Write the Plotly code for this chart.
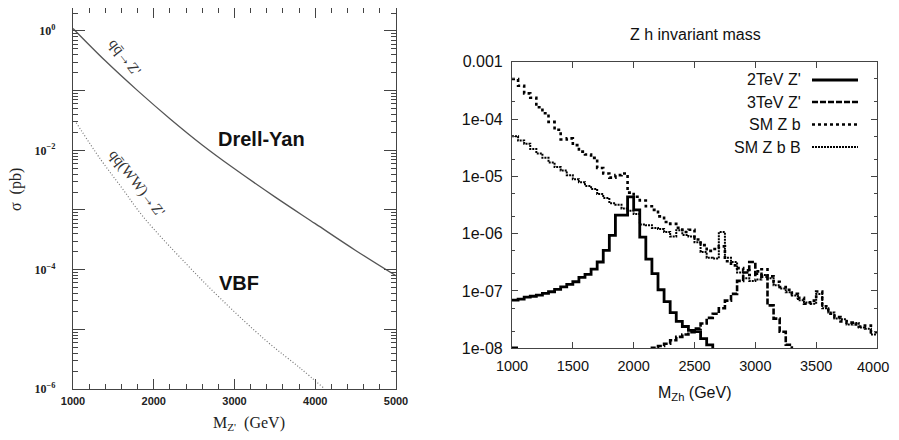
import plotly.graph_objects as go

# the page body adds an 8px margin on every side; keep the figure inside it
# (no scrollbars) and shift reference pixel positions by that offset
W, H = 883, 424
OFF = 8

# ---- left panel: cross sections vs Z' mass ----
dy_mass = [1000, 1400, 1800, 2200, 2600, 3000, 3500, 4000, 4500, 5000]
dy_sigma = [1.1, 0.316, 0.1, 0.0339, 0.0123, 4.9e-3, 1.66e-3, 5.9e-4, 2.1e-4, 7.9e-5]

vbf_mass = [1040, 1340, 1600, 1873, 2400, 2825, 3400, 3813, 4100]
vbf_sigma = [0.029, 7.1e-3, 2.4e-3, 7.6e-4, 1.26e-4, 3.3e-5, 6.3e-6, 2.24e-6, 1.05e-6]

# ---- right panel: Zh invariant mass histograms (50 GeV bins, 1000-4000) ----
bin_lo = list(range(1000, 4000, 50))
BELOW = 1e-10  # bins that fall under the 1e-8 floor

zp2 = [6.9e-8, 7.2e-8, 7.8e-8, 8.1e-8, 8.5e-8, 9.1e-8, 9.7e-8, 1.07e-7, 1.18e-7, 1.30e-7,
       1.45e-7, 1.73e-7, 1.95e-7, 2.4e-7, 3.2e-7, 5.1e-7, 9.3e-7, 2.1e-6, 2.1e-6, 4.4e-6,
       2.6e-6, 8.7e-7, 3.6e-7, 2.0e-7, 1.05e-7, 6.5e-8, 4.2e-8, 2.95e-8, 2.4e-8, 2.05e-8,
       1.95e-8, 1.48e-8, 1.15e-8] + [BELOW] * 27

zp3 = [1.02e-8] + [BELOW] * 22 + [
       1.02e-8, 1.1e-8, 1.2e-8, 1.38e-8, 1.58e-8, 1.74e-8, 1.9e-8, 2.2e-8, 2.7e-8, 3.4e-8,
       4.0e-8, 5.0e-8, 6.8e-8, 8.9e-8, 1.5e-7, 2.1e-7, 3.2e-7, 2.0e-7, 1.78e-7, 5.6e-8,
       3.3e-8, 1.95e-8, 1.15e-8] + [BELOW] * 14

sm_zb = [5.0e-4, 3.8e-4, 2.8e-4, 2.35e-4, 1.6e-4, 1.26e-4, 8.9e-5, 6.5e-5, 4.4e-5, 4.6e-5,
         3.5e-5, 2.7e-5, 2.4e-5, 2.1e-5, 1.4e-5, 1.12e-5, 9.5e-6, 1.05e-5, 1.12e-5, 5.2e-6,
         4.4e-6, 3.8e-6, 3.0e-6, 2.6e-6, 2.0e-6, 1.6e-6, 1.48e-6, 1.26e-6, 1.07e-6, 1.17e-6,
         7.9e-7, 6.3e-7, 5.0e-7, 5.4e-7, 6.0e-7, 3.3e-7, 2.8e-7, 2.5e-7, 2.3e-7, 1.9e-7,
         2.2e-7, 2.4e-7, 1.8e-7, 1.45e-7, 1.17e-7, 1.05e-7, 8.9e-8, 7.6e-8, 6.0e-8, 6.8e-8,
         9.8e-8, 5.4e-8, 4.0e-8, 3.5e-8, 2.95e-8, 2.8e-8, 2.6e-8, 2.4e-8, 2.5e-8, 1.9e-8]

sm_zbb = [5.0e-5, 4.2e-5, 3.7e-5, 3.0e-5, 2.5e-5, 2.1e-5, 1.74e-5, 1.45e-5, 1.26e-5, 1.05e-5,
          8.9e-6, 7.9e-6, 6.8e-6, 6.0e-6, 4.9e-6, 4.2e-6, 3.4e-6, 3.2e-6, 2.75e-6, 2.5e-6,
          2.2e-6, 1.45e-6, 1.4e-6, 1.26e-6, 1.2e-6, 1.07e-6, 8.9e-7, 1.15e-6, 9.5e-7, 8.9e-7,
          7.1e-7, 4.8e-7, 3.8e-7, 3.7e-7, 1.07e-6, 3.8e-7, 3.2e-7, 2.1e-7, 1.66e-7, 1.5e-7,
          1.58e-7, 1.9e-7, 1.66e-7, 1.26e-7, 1.1e-7, 9.5e-8, 8.3e-8, 6.9e-8, 6.3e-8, 6.0e-8,
          8.9e-8, 5.0e-8, 4.2e-8, 3.3e-8, 3.2e-8, 2.6e-8, 2.75e-8, 2.3e-8, 2.2e-8, 1.74e-8]

series = [
    ("2TeV Z'", zp2, "solid", 2.8),
    ("3TeV Z'", zp3, "6px,2px", 2.6),
    ("SM Z b", sm_zb, "3px,3px", 2.6),
    ("SM Z b B", sm_zbb, "2px,1px", 2.0),
]

right_xticks = [1000, 1500, 2000, 2500, 3000, 3500, 4000]
right_xticktext = ["1000", "1500", "2000", "2500", "3000", "3500", ""]  # 4000 placed by hand at the page edge
right_yticks = [1e-8, 1e-7, 1e-6, 1e-5, 1e-4, 1e-3]
right_yticktext = ["1e-08", "1e-07", "1e-06", "1e-05", "1e-04", "0.001"]
left_yticks = [1e-6, 1e-5, 1e-4, 1e-3, 1e-2, 1e-1, 1]
left_yticktext = ["10<sup>−6</sup>", "", "10<sup>−4</sup>", "", "10<sup>−2</sup>", "", "10<sup>0</sup>"]


def px(x):
    return (x - OFF) / W


def py(y):
    return min(1.0, 1 - (y - OFF) / H)


SERIF = "Liberation Serif, Times New Roman, serif"
SANS = "Liberation Sans, Arial, sans-serif"
GREY = "#444"

fig = go.Figure()

fig.add_trace(go.Scatter(x=dy_mass, y=dy_sigma, mode="lines", line_shape="spline",
                         line=dict(color="#555", width=1.3), xaxis="x", yaxis="y",
                         showlegend=False))
fig.add_trace(go.Scatter(x=vbf_mass, y=vbf_sigma, mode="lines", line_shape="spline",
                         line=dict(color="#777", width=1.2, dash="1px,2px"), xaxis="x", yaxis="y",
                         showlegend=False))

for name, vals, dash, width in series:
    fig.add_trace(go.Scatter(x=bin_lo + [4000], y=vals + [vals[-1]], mode="lines",
                             line_shape="hv", name=name,
                             line=dict(color="black", width=width, dash=dash),
                             xaxis="x2", yaxis="y2", showlegend=False))

left_minor_y = [k * 10.0 ** d for d in range(-6, 0) for k in range(2, 10)] + [2]
right_minor_y = [k * 10.0 ** d for d in range(-8, -3) for k in (2, 5)]

# left frame top sits at the page edge; keep the 60 px/decade scale (10^0 at y=31)
fig.update_layout(
    width=W, height=H, margin=dict(l=0, r=0, t=0, b=0),
    paper_bgcolor="white", plot_bgcolor="white",
    xaxis=dict(domain=[px(73), px(396)], range=[1000, 5000], anchor="y", automargin=False,
               tickvals=[1000, 2000, 3000, 4000, 5000], ticks="inside", ticklen=10,
               tickcolor=GREY, showline=True, linecolor=GREY, linewidth=1.2, mirror="ticks",
               showgrid=False, zeroline=False, ticklabelstandoff=2,
               tickfont=dict(family=SANS, size=11, color="#222", weight="bold"),
               minor=dict(tickvals=list(range(1200, 5000, 200)), ticks="inside", ticklen=5,
                          tickcolor=GREY)),
    yaxis=dict(domain=[py(389), py(8)], type="log", range=[-6, 0.385], anchor="x", automargin=False,
               tickvals=left_yticks, ticktext=left_yticktext, ticks="inside", ticklen=12,
               tickcolor=GREY, showline=True, linecolor=GREY, linewidth=1.2, mirror="ticks",
               showgrid=False, zeroline=False, ticklabelstandoff=14,
               tickfont=dict(family=SERIF, size=12, color="#222", weight="bold"),
               minor=dict(tickvals=left_minor_y, ticks="inside", ticklen=5, tickcolor=GREY)),
    xaxis2=dict(domain=[px(512), px(877)], range=[1000, 4000], anchor="y2", automargin=False,
                tickvals=right_xticks, ticktext=right_xticktext, ticks="inside", ticklen=6,
                tickcolor=GREY, showline=True, linecolor=GREY, linewidth=1.2, mirror="ticks",
                showgrid=False, zeroline=False, ticklabelstandoff=4,
                tickfont=dict(family=SANS, size=14.5, color="#111")),
    yaxis2=dict(domain=[py(348.3), py(61.7)], type="log", range=[-8, -3], anchor="x2",
                automargin=False,
                tickvals=right_yticks, ticktext=right_yticktext, ticks="inside", ticklen=6,
                tickcolor=GREY, showline=True, linecolor=GREY, linewidth=1.2, mirror="ticks",
                showgrid=False, zeroline=False, ticklabelstandoff=5,
                tickfont=dict(family=SANS, size=16, color="#111"),
                minor=dict(tickvals=right_minor_y, ticks="inside", ticklen=3, tickcolor=GREY)),
)

annotations = [
    dict(x=px(249), y=py(423), text="M<sub>Z'</sub>  (GeV)", font=dict(family=SERIF, size=16, color="#222")),
    dict(x=px(16), y=py(190), text="σ  (pb)", textangle=-90, font=dict(family=SERIF, size=16, color="#222")),
    dict(x=px(262), y=py(139), text="<b>Drell-Yan</b>", font=dict(family=SANS, size=20, color="#111")),
    dict(x=px(239), y=py(283), text="<b>VBF</b>", font=dict(family=SANS, size=20, color="#111")),
    dict(x=px(125), y=py(57), text="qq̄→Z'", textangle=52, font=dict(family=SERIF, size=15, color="#333")),
    dict(x=px(137), y=py(183), text="qq̄(WW)→Z'", textangle=52, font=dict(family=SERIF, size=15, color="#333")),
    dict(x=px(695), y=py(35), text="Z h invariant mass", font=dict(family=SANS, size=16, color="#111")),
    dict(x=px(695), y=py(393), text="M<sub>Zh</sub> (GeV)", font=dict(family=SANS, size=16, color="#111")),
    dict(x=1.0, y=py(367), text="4000", xanchor="right", font=dict(family=SANS, size=14.5, color="#111")),
]

# legend drawn gnuplot-style: label on the left, line sample on the right
legend_rows = [80, 102, 124.5, 147]
for (name, vals, dash, width), ry in zip(series, legend_rows):
    annotations.append(dict(x=px(803), y=py(ry), text=name, xanchor="right",
                            font=dict(family=SANS, size=16, color="#111")))
    fig.add_shape(type="line", xref="paper", yref="paper", x0=px(812), x1=px(858),
                  y0=py(ry), y1=py(ry), line=dict(color="black", width=width, dash=dash))

for a in annotations:
    a.setdefault("xref", "paper")
    a.setdefault("yref", "paper")
    a.setdefault("xanchor", "center")
    a.setdefault("yanchor", "middle")
    a.setdefault("showarrow", False)
fig.update_layout(annotations=annotations)

fig.write_html("out.html")
